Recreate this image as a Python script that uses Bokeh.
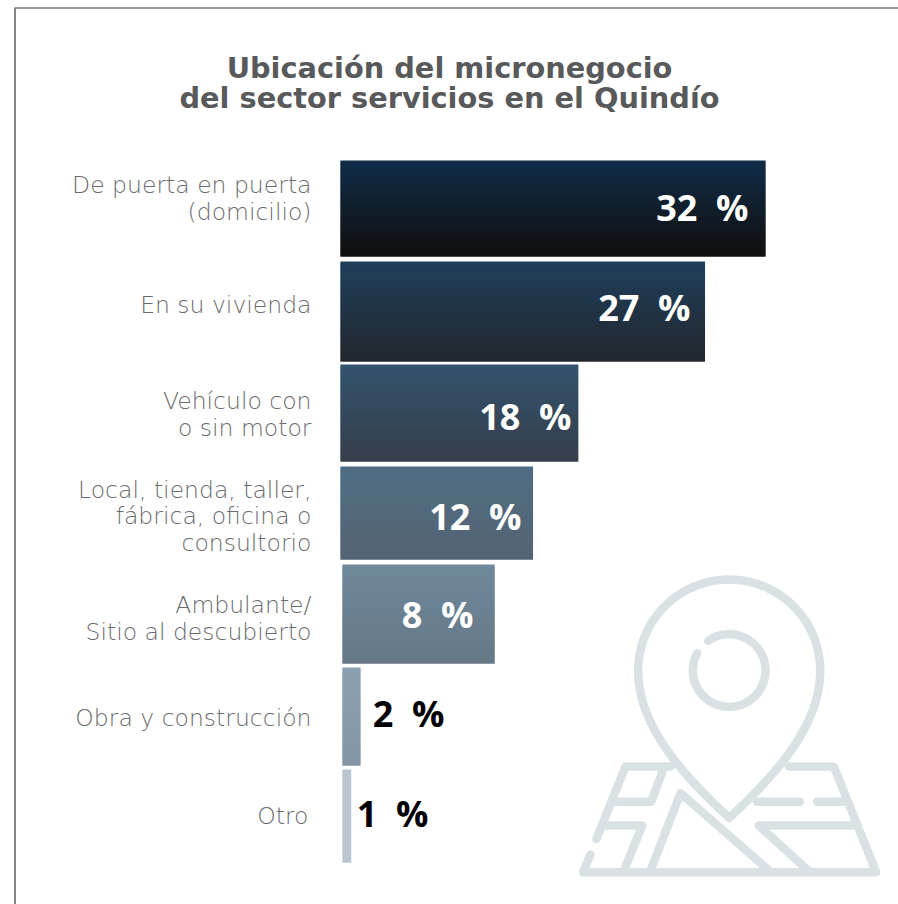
import numpy as np
from bokeh.embed import file_html
from bokeh.resources import INLINE
from bokeh.plotting import figure
from bokeh.models import Range1d, ColumnDataSource
from bokeh.core.properties import value

categories = ["De puerta en puerta\n(domicilio)", "En su vivienda", "Vehículo con\no sin motor",
              "Local, tienda, taller,\nfábrica, oficina o\nconsultorio", "Ambulante/\nSitio al descubierto",
              "Obra y construcción", "Otro"]
percent_labels = [32, 27, 18, 12, 8, 2, 1]
drawn_lengths = [32.0, 27.45, 17.9, 14.5, 11.6, 1.5, 0.8]

# layout (page pixels)
PX_PER_UNIT = 13.28
X0 = 340
bar_left_px = [340, 340, 340, 340, 342, 342, 342]
bar_top_px = [160, 261, 364, 466, 564, 667, 769]
bar_bot_px = [256, 361, 461, 559, 663, 765, 862]
grad_top = ["#102c47", "#1f3f5c", "#33536e", "#4f6d84", "#6f889c", "#8ba0b1", "#b9c6d1"]
grad_bot = ["#11100f", "#23282e", "#363f4b", "#556574", "#667987", "#8296a5", "#b9c6d1"]
label_y_px = [198, 304, 414, 516, 618, 717, 815]
label_x_px = [311, 311, 311, 311, 311, 311, 308]
val_x_px = [748, 690, 571, 521, 473, 444, 428]
val_y_px = [206.5, 306.5, 415.5, 515.5, 613.5, 712.5, 812.5]
val_colors = ["white"] * 5 + ["black"] * 2

def h2r(h):
    return np.array([int(h[i:i + 2], 16) for i in (1, 3, 5)], float)

def r2h(c):
    return "#%02x%02x%02x" % tuple(int(round(v)) for v in c)

p = figure(width=898, height=904, output_backend="svg", toolbar_location=None,
           x_range=Range1d((0 - X0) / PX_PER_UNIT, (898 - X0) / PX_PER_UNIT), y_range=Range1d(904, 0),
           min_border=0, outline_line_color=None, background_fill_color="white", border_fill_color="white")
p.axis.visible = False
p.grid.visible = False
p.extra_x_ranges["px"] = Range1d(0, 898)

# bars with vertical gradient: slices overlap by one row so no seam shows
for i, v in enumerate(drawn_lengths):
    t, b = bar_top_px[i], bar_bot_px[i]
    rows = np.arange(t, b)
    f = (rows - t) / max(1, b - t - 1)
    cols = [r2h(h2r(grad_top[i]) * (1 - a) + h2r(grad_bot[i]) * a) for a in f]
    left = (bar_left_px[i] - X0) / PX_PER_UNIT
    src = ColumnDataSource(dict(top=rows, bottom=np.minimum(rows + 2, b), left=[left] * len(rows),
                                right=[v] * len(rows), c=cols))
    p.quad(top="top", bottom="bottom", left="left", right="right", fill_color="c", fill_alpha=1.0,
           line_color=None, source=src)

# frame
p.line([14.5, 14.5], [8, 904], x_range_name="px", line_color="#333333", line_width=1.2)
p.line([14, 898], [7.5, 7.5], x_range_name="px", line_color="#333333", line_width=1.2)

# title
TITLE_FONT = value("DejaVu Sans")
p.text([449], [67], text=["Ubicación del micronegocio"], x_range_name="px", text_font=TITLE_FONT,
       text_font_style="bold", text_font_size="28.8px", text_color="#58595b", text_align="center", text_baseline="middle")
p.text([449], [97.5], text=["del sector servicios en el Quindío"], x_range_name="px", text_font=TITLE_FONT,
       text_font_style="bold", text_font_size="28.8px", text_color="#58595b", text_align="center", text_baseline="middle")

# category labels
p.text(label_x_px, label_y_px, text=categories, x_range_name="px", text_font=value("DejaVu Sans Light, DejaVu Sans"),
       text_font_size="23.5px", text_color="#6a6b6e", text_align="right", text_baseline="middle", text_line_height=0.93)

# value labels
p.text(val_x_px, val_y_px, text=[f"{v}\u00a0\u00a0%" for v in percent_labels], x_range_name="px",
       text_font=value("Open Sans"), text_font_style="bold", text_font_size="36px", text_color=val_colors,
       text_align="right", text_baseline="middle")

# map pin icon (traced in a 3x decoration grid)
def zx(a):
    return 560 + np.asarray(a, float) / 3

def zy(a):
    return 560 + np.asarray(a, float) / 3

ICON = "#d9e1e5"
cx, cy, R = 506, 330, 273
th = np.linspace(np.pi, 2 * np.pi, 80)
head_x = cx + R * np.cos(th)
head_y = cy + R * np.sin(th)
tt = np.linspace(0, 1, 50)
P0, P1, P2, P3 = np.array([233, 330.]), np.array([233, 480.]), np.array([340, 620.]), np.array([506, 772.])
bez = np.outer((1 - tt) ** 3, P0) + np.outer(3 * (1 - tt) ** 2 * tt, P1) + np.outer(3 * (1 - tt) * tt ** 2, P2) + np.outer(tt ** 3, P3)
pin_x = np.r_[head_x, (2 * cx - bez[:, 0]), bez[::-1, 0]]
pin_y = np.r_[head_y, bez[:, 1], bez[::-1, 1]]
a0 = np.arctan2(240 - cy, 443 - cx)
a1 = np.arctan2(278 - cy, 410 - cx) + 2 * np.pi
a = np.linspace(a0, a1, 100)
ring_x = cx + 109 * np.cos(a)
ring_y = cy + 109 * np.sin(a)
paths = [
    (pin_x, pin_y),
    (ring_x, ring_y),
    ([108, 195, 330], [835, 618, 618]),
    ([685, 820, 947, 68, 90], [618, 618, 935, 935, 882]),
    ([310, 272, 165], [622, 724, 724]),
    ([135, 245, 190], [795, 795, 932]),
    ([268, 360, 628], [935, 698, 932]),
    ([590, 718], [724, 724]),
    ([770, 850], [724, 724]),
    ([880, 595, 745], [795, 795, 932]),
]
p.multi_line([list(zx(x)) for x, y in paths], [list(zy(y)) for x, y in paths], x_range_name="px",
             line_color=ICON, line_width=8.5, line_cap="round", line_join="round")

open("out.html", "w").write(file_html(p, INLINE))
